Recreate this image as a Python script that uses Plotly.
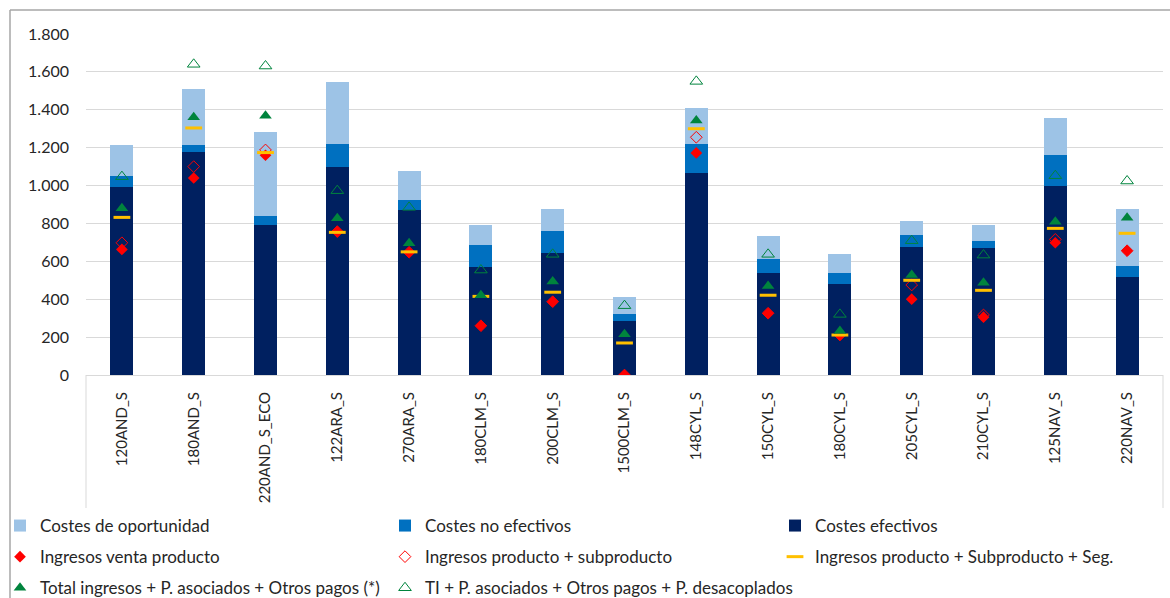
import plotly.graph_objects as go

# categorías (explotaciones tipo)
categories = ['120AND_S', '180AND_S', '220AND_S_ECO', '122ARA_S', '270ARA_S', '180CLM_S',
              '200CLM_S', '1500CLM_S', '148CYL_S', '150CYL_S', '180CYL_S', '205CYL_S',
              '210CYL_S', '125NAV_S', '220NAV_S']

# costes (barras apiladas)
costes_efectivos = [990, 1177, 792, 1100, 873, 572, 646, 283, 1068, 537, 479, 677, 669, 1000, 516]
costes_no_efectivos = [60, 39, 47, 119, 51, 114, 114, 37, 151, 75, 58, 60, 37, 161, 61]
costes_oportunidad = [162, 295, 442, 326, 153, 106, 115, 92, 189, 122, 102, 78, 86, 197, 298]

# ingresos (marcadores)
ingresos_venta = [663, 1040, 1160, 757, 648, 260, 387, 0, 1172, 326, 211, 400, 305, 698, 656]
ingresos_prod_sub = [698, 1100, 1188, 757, 648, 260, 387, 0, 1255, 326, 211, 475, 317, 716, 656]
ingresos_seg = [832, 1304, 1174, 753, 650, 415, 437, 169, 1300, 421, 211, 500, 447, 774, 748]
total_ingresos = [880, 1360, 1369, 827, 695, 421, 493, 215, 1343, 470, 232, 528, 487, 809, 830]
ti_desacoplados = [1047, 1640, 1631, 973, 885, 554, 637, 366, 1550, 637, 320, 709, 633, 1052, 1024]

FONT = 'Lato'
TXT = '#262626'

fig = go.Figure()

# barras: efectivos abajo, oportunidad arriba
fig.add_bar(x=categories, y=costes_efectivos, name='Costes efectivos',
            marker=dict(color='#002060', line_width=0), width=0.32,
            legend='legend3', legendgroup='ce')
fig.add_bar(x=categories, y=costes_no_efectivos, name='Costes no efectivos',
            marker=dict(color='#0070C0', line_width=0), width=0.32,
            legend='legend2', legendgroup='cne')
fig.add_bar(x=categories, y=costes_oportunidad, name='Costes de oportunidad',
            marker=dict(color='#9DC3E6', line_width=0), width=0.32,
            legend='legend', legendgroup='co')

# marcadores
fig.add_scatter(x=categories, y=ingresos_venta, name='Ingresos venta producto', mode='markers',
                marker=dict(symbol='diamond', size=9, color='#FF0000'),
                legend='legend', legendgroup='iv')
fig.add_scatter(x=categories, y=ingresos_prod_sub, name='Ingresos producto + subproducto', mode='markers',
                marker=dict(symbol='diamond-open', size=9, color='#FF0000', line=dict(width=1)),
                legend='legend2', legendgroup='ips')
fig.add_scatter(x=categories, y=ingresos_seg, name='Ingresos producto + Subproducto + Seg.', mode='markers',
                marker=dict(symbol='line-ew-open', size=12, color='#FFC000', line=dict(width=3, color='#FFC000')),
                legend='legend3', legendgroup='iss')
fig.add_scatter(x=categories, y=total_ingresos, name='Total ingresos + P. asociados + Otros pagos (*)', mode='markers',
                marker=dict(symbol='triangle-up', size=11, color='#00843D'),
                legend='legend', legendgroup='ti')
fig.add_scatter(x=categories, y=ti_desacoplados, name='TI + P. asociados + Otros pagos + P. desacoplados', mode='markers',
                marker=dict(symbol='triangle-up-open', size=11, color='#00843D', line=dict(width=1)),
                legend='legend2', legendgroup='tid')

W, H = 1170, 598
L, R, T, B = 86, 7, 34, 223
pw, ph = W - L - R, H - T - B


def px_x(v):
    return (v - L) / pw


def px_y(v):
    return (H - B - v) / ph


leg = dict(orientation='v', yanchor='top', xanchor='left', y=px_y(508),
           bgcolor='rgba(0,0,0,0)', font=dict(family=FONT, size=17, color=TXT),
           traceorder='grouped', tracegroupgap=6, itemclick=False)

fig.update_layout(
    width=W, height=H,
    margin=dict(l=L, r=R, t=T, b=B, autoexpand=False),
    barmode='stack',
    plot_bgcolor='white', paper_bgcolor='white',
    separators=',.',
    font=dict(family=FONT, size=15, color=TXT),
    legend=dict(leg, x=px_x(0)),
    legend2=dict(leg, x=px_x(385)),
    legend3=dict(leg, x=px_x(775)),
    xaxis=dict(range=[-0.5, len(categories) - 0.5], tickangle=-90, showline=True,
               linecolor='#D9D9D9', linewidth=1, ticks='', showgrid=False,
               tickfont=dict(family=FONT, size=15, color=TXT), ticklabelstandoff=10),
    yaxis=dict(range=[0, 1800], dtick=200, tickformat=',d', showgrid=True,
               gridcolor='#D9D9D9', gridwidth=1, zeroline=False, showline=False,
               ticks='', tickfont=dict(family=FONT, size=16, color=TXT),
               ticklabelstandoff=16),
    shapes=[
        # borde del gráfico
        dict(type='line', xref='paper', yref='paper', x0=px_x(10), x1=px_x(W + 5),
             y0=px_y(10), y1=px_y(10), line=dict(color='#A6A6A6', width=1.5)),
        dict(type='line', xref='paper', yref='paper', x0=px_x(10), x1=px_x(10),
             y0=px_y(10), y1=px_y(H + 5), line=dict(color='#A6A6A6', width=1.5)),
        # caja de etiquetas de categoría
        dict(type='line', xref='paper', yref='paper', x0=0, x1=0,
             y0=0, y1=px_y(508), line=dict(color='#D9D9D9', width=1)),
        dict(type='line', xref='paper', yref='paper', x0=1, x1=1,
             y0=0, y1=px_y(508), line=dict(color='#D9D9D9', width=1)),
    ],
)

# sin margen del body para que la figura ocupe exactamente la ventana
fig.write_html('out.html', config={'displayModeBar': False},
               post_script="document.body.style.margin='0';")
